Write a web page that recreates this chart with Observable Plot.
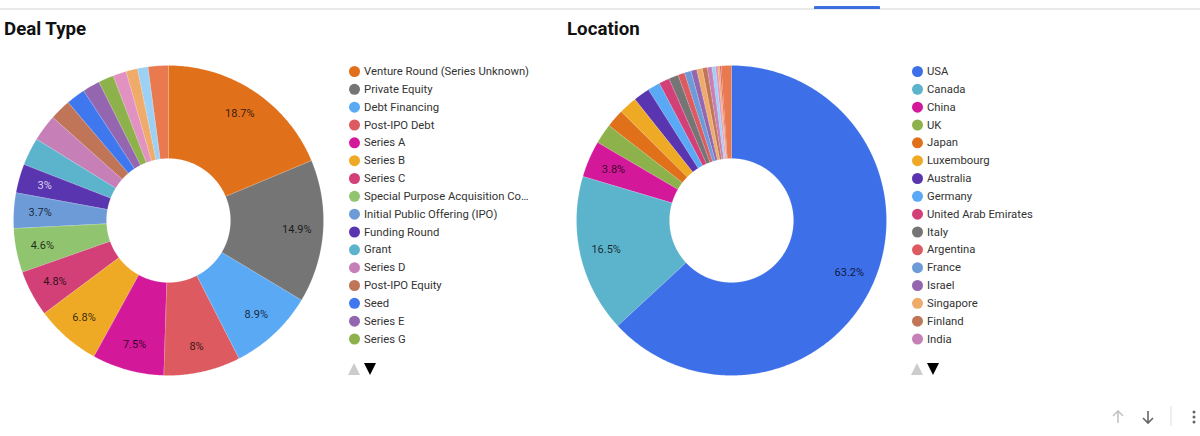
<!DOCTYPE html>
<html><head><meta charset="utf-8">
<script src="https://cdn.jsdelivr.net/npm/d3@7"></script>
<script src="https://cdn.jsdelivr.net/npm/@observablehq/plot@0.6"></script>
<style>
html,body{margin:0;padding:0;background:#fff;overflow:hidden}
#page{position:relative;width:1200px;height:436px;font-family:Roboto,sans-serif;overflow:hidden}
#page>*{position:absolute}
.title{font-weight:700;font-size:18.7px;line-height:22px;color:#111}
.up{width:0;height:0;border-left:6px solid transparent;border-right:6px solid transparent;border-bottom:12px solid #ccc}
.down{width:0;height:0;border-left:6px solid transparent;border-right:6px solid transparent;border-top:12px solid #000}
</style></head><body><div id="page"></div>
<script>
const dealNames = ["Venture Round (Series Unknown)","Private Equity","Debt Financing","Post-IPO Debt","Series A","Series B","Series C","Special Purpose Acquisition Co…","Initial Public Offering (IPO)","Funding Round","Grant","Series D","Post-IPO Equity","Seed","Series E","Series G","Page 2 a","Page 2 b","Page 2 c","Others"];
const dealValues = [18.7,14.9,8.9,8,7.5,6.8,4.8,4.6,3.7,3,2.9,2.8,2.2,2,1.8,1.6,1.4,1.2,1.1,2.1];
const dealLabelled = 16;
const dealColors = ["#e0701a","#757575","#5aa9f5","#dc5a60","#d4189a","#eeaa25","#d24077","#90c46f","#6d9bd8","#5a35b0","#5cb4cc","#c77fb8","#c07558","#3f78ee","#9566b0","#8eb24b","#e292c0","#eeab69","#9cd0f5","#e97a50"];

const locNames = ["USA","Canada","China","UK","Japan","Luxembourg","Australia","Germany","United Arab Emirates","Italy","Argentina","France","Israel","Singapore","Finland","India","Page 2 a","Page 2 b","Page 2 c","Page 2 d","Others"];
const locValues = [63.2,16.5,3.8,2.1,1.9,1.9,1.7,1.3,1.1,1,0.7,0.7,0.6,0.6,0.5,0.5,0.35,0.25,0.2,0.15,1.05];
const locLabelled = 16;
const locColors = ["#3d6fe8","#5cb4cc","#d4189a","#8eb24b","#e0701a","#eeaa25","#5a35b0","#5aa9f5","#d24077","#757575","#dc5a60","#6d9bd8","#9566b0","#eeab69","#c07558","#c77fb8","#9cd0f5","#e292c0","#eeab69","#dc5a60","#e97a50"];

const page = document.getElementById("page");
const innerShare = 0.4, labelRadius = 0.83;

function place(node, left, top){ node.style.left = left+"px"; node.style.top = top+"px"; page.appendChild(node); return node; }
function div(cls, left, top, txt){ const d=document.createElement("div"); d.className=cls; if(txt) d.textContent=txt; return place(d,left,top); }

function donut(names, values, colors, left, top){
  const total = d3.sum(values);
  const ring = [], labels = [];
  let cum = 0;
  values.forEach((v,i)=>{
    const a0 = cum/total*2*Math.PI, a1 = (cum+v)/total*2*Math.PI;
    const n = Math.max(2, Math.ceil((a1-a0)/0.01));
    const pts = d3.range(n+1).map(k=>a0+(a1-a0)*k/n);
    for(const a of pts) ring.push({name:names[i], x:Math.sin(a), y:Math.cos(a)});
    for(const a of pts.reverse()) ring.push({name:names[i], x:innerShare*Math.sin(a), y:innerShare*Math.cos(a)});
    if(v>=3){
      const m=(a0+a1)/2;
      labels.push({x:labelRadius*Math.sin(m), y:labelRadius*Math.cos(m), text:v+"%", dark:names[i]!=="Funding Round"});
    }
    cum+=v;
  });
  const half = 160/155;
  const svg = Plot.plot({
    width:320, height:320, margin:0,
    style:{background:"none"},
    x:{domain:[-half,half],axis:null}, y:{domain:[-half,half],axis:null},
    color:{domain:names,range:colors},
    marks:[
      Plot.line(ring,{x:"x",y:"y",z:"name",fill:"name",stroke:"#fff",strokeWidth:0.3,strokeOpacity:0.45,curve:"linear-closed"}),
      Plot.text(labels,{x:"x",y:"y",text:"text",fontSize:11,fontFamily:"Roboto",fill:d=>d.dark?"#000":"#fff",fillOpacity:0.78})
    ]
  });
  place(svg,left,top);
}

function legend(names, colors, count, left, top){
  const shown = names.slice(0,count);
  const svg = Plot.plot({
    width:200, height:285, margin:0,
    style:{background:"none"},
    x:{axis:null},
    y:{type:"point",domain:shown,range:[9,276.5],padding:0,round:false,axis:null},
    color:{domain:names,range:colors},
    marks:[
      Plot.dot(shown,{y:d=>d,frameAnchor:"left",dx:6,r:5.5,fill:d=>d}),
      Plot.text(shown,{y:d=>d,text:d=>d,frameAnchor:"left",textAnchor:"start",dx:15.5,fontSize:11.3,fontFamily:"Roboto",fill:"#333"})
    ]
  });
  place(svg,left,top);
}

// header rule + active tab
const rule=div("",0,8); rule.style.cssText+="width:1200px;height:2px;background:#e9e9e9";
const tab=div("",814,6); tab.style.cssText+="width:66px;height:3px;background:#3d6fe0;border-radius:1px 1px 0 0";

div("title",4,18,"Deal Type");
div("title",567,18,"Location");

donut(dealNames,dealValues,dealColors,8,60);
donut(locNames,locValues,locColors,571,60);
legend(dealNames,dealColors,dealLabelled,348,61.5);
legend(locNames,locColors,locLabelled,911,61.5);

div("up",348,363); div("down",364,363);
div("up",911,363); div("down",927,363);

// footer controls
const ns="http://www.w3.org/2000/svg";
const foot=document.createElementNS(ns,"svg");
foot.setAttribute("width",110);foot.setAttribute("height",41);
foot.innerHTML='<g fill="none" stroke-width="1.6"><path d="M28 28V16M23 21l5-5 5 5" stroke="#c4c4c4"/><path d="M58 16v12M53 23l5 5 5-5" stroke="#666"/></g><rect x="80.5" y="11" width="1" height="20" fill="#ddd"/><g fill="#666"><circle cx="104" cy="17" r="1.5"/><circle cx="104" cy="22" r="1.5"/><circle cx="104" cy="27" r="1.5"/></g>';
place(foot,1090,395);
</script></body></html>
